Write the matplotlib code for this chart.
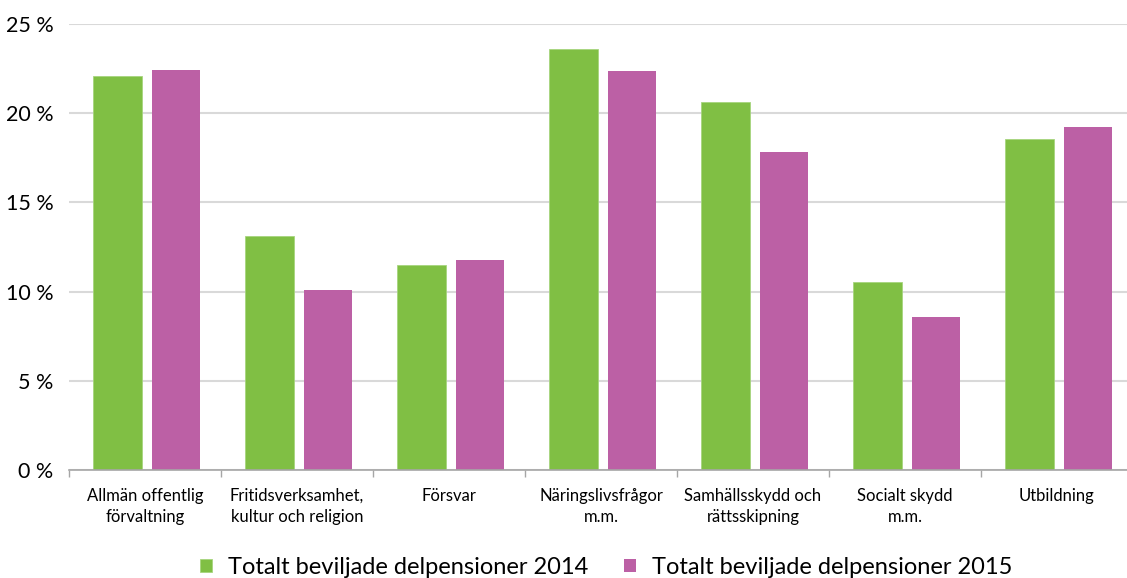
import numpy as np
import matplotlib.pyplot as plt
from matplotlib.ticker import FuncFormatter

plt.rcParams['font.family'] = ['Lato', 'DejaVu Sans']

categories = ['Allmän offentlig\nförvaltning', 'Fritidsverksamhet,\nkultur och religion',
              'Försvar', 'Näringslivsfrågor\nm.m.', 'Samhällsskydd och\nrättsskipning',
              'Socialt skydd\nm.m.', 'Utbildning']
series_2014 = [22.1, 13.1, 11.5, 23.6, 20.6, 10.55, 18.55]
series_2015 = [22.4, 10.1, 11.75, 22.35, 17.85, 8.6, 19.2]
labels = ['Totalt beviljade delpensioner 2014', 'Totalt beviljade delpensioner 2015']

green = '#80bf44'
purple = '#bc60a5'

W, H = 1127, 578
fig = plt.figure(figsize=(W / 100, H / 100), dpi=100)
ax = fig.add_axes([69 / W, (H - 470) / H, 1064 / W, 446 / H])

x = np.arange(len(categories))
bw = 0.32
ax.bar(x - 0.18, series_2014, bw, color=green, edgecolor='#a6d57e', linewidth=0.6,
       label=labels[0], zorder=3)
ax.bar(x + 0.205, series_2015, bw, color=purple, label=labels[1], zorder=3)

ax.set_xlim(-0.5, len(categories) - 0.5)
ax.set_ylim(0, 25)
ax.set_yticks(range(0, 26, 5))
ax.yaxis.set_major_formatter(FuncFormatter(lambda v, p: f'{int(v)} %'))
ax.tick_params(axis='y', length=0, labelsize=15.5, pad=11, colors='#000000')
ax.grid(axis='y', color='#d9d9d9', linewidth=1.5, zorder=0)

ax.set_xticks(x)
ax.set_xticklabels(categories, fontsize=12, linespacing=1.35)
ax.tick_params(axis='x', length=0, pad=13)
ax.set_xticks(np.arange(len(categories) + 1) - 0.5, minor=True)
ax.tick_params(axis='x', which='minor', length=5, color='#a6a6a6', width=1)

for s in ['left', 'right', 'top']:
    ax.spines[s].set_visible(False)
ax.spines['bottom'].set_color('#a6a6a6')
ax.spines['bottom'].set_linewidth(1.2)
ax.spines['bottom'].set_zorder(4)

fig.legend(loc='lower center', bbox_to_anchor=(0.538, -0.037), ncol=2, frameon=False,
           fontsize=17, handlelength=0.5, handleheight=0.5, handletextpad=0.7,
           columnspacing=1.5)

fig.savefig('out.png', dpi=100, facecolor='white')
